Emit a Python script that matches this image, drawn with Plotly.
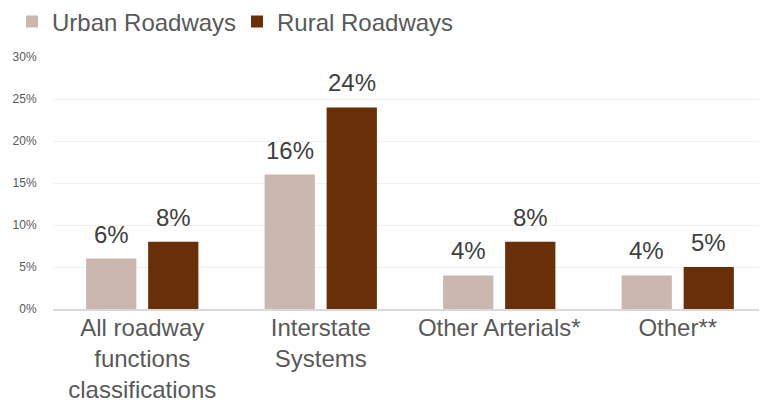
import plotly.graph_objects as go

categories = ["All roadway<br>functions<br>classifications", "Interstate<br>Systems", "Other Arterials*", "Other**"]
urban = [6, 16, 4, 4]
rural = [8, 24, 8, 5]
series_names = ["Urban Roadways", "Rural Roadways"]
tick_vals = [0, 5, 10, 15, 20, 25, 30]
tick_text = ["0%", "5%", "10%", "15%", "20%", "25%", "30%"]

FONT = "Liberation Sans, Arial, sans-serif"
URBAN_C = "#CAB7B0"
RURAL_C = "#692F08"

fig = go.Figure()
fig.add_trace(go.Bar(x=categories, y=urban, name=series_names[0], marker_color=URBAN_C,
                     marker_line_width=0))
fig.add_trace(go.Bar(x=categories, y=rural, name=series_names[1], marker_color=RURAL_C,
                     marker_line_width=0))

# data labels placed via the axes' scales
for vals, shift in ((urban, -31), (rural, 31)):
    for c, v in zip(categories, vals):
        fig.add_annotation(x=c, y=v, xref="x", yref="y", text=f"{v}%", showarrow=False,
                           xshift=shift, yshift=9, yanchor="bottom",
                           font=dict(size=24, color="#404040", family=FONT))

fig.update_layout(
    width=759, height=394,
    margin=dict(l=45, r=0, t=49, b=93, autoexpand=False),
    paper_bgcolor="white", plot_bgcolor="white",
    barmode="group", bargap=0.305, bargroupgap=0.19,
    font=dict(family=FONT, color="#595959"),
    legend=dict(orientation="h", x=-0.0574, y=1.139, xref="paper", yref="paper",
                xanchor="left", yanchor="middle",
                font=dict(size=24, color="#595959", family=FONT),
                itemwidth=30, entrywidth=180, traceorder="normal",
                bgcolor="rgba(0,0,0,0)"),
    showlegend=True,
)
fig.update_xaxes(showline=True, linecolor="#D9D9D9", linewidth=1.5, ticks="",
                 tickfont=dict(size=24, color="#595959", family=FONT), showgrid=False,
                 automargin=False, ticklabelstandoff=-4)
fig.update_yaxes(range=[0, 30], tickvals=tick_vals, ticktext=tick_text, showgrid=True,
                 gridcolor="#F0F0F0", gridwidth=1, zeroline=False, showline=False,
                 tickfont=dict(size=12, color="#595959", family=FONT),
                 ticks="outside", ticklen=13, tickcolor="rgba(0,0,0,0)", automargin=False)

fig.write_html("out.html")
